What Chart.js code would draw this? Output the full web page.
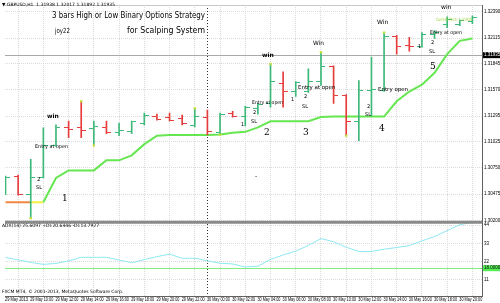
<!DOCTYPE html>
<html>
<head>
<meta charset="utf-8">
<script src="https://cdn.jsdelivr.net/npm/chart.js@4.4.0/dist/chart.umd.min.js"></script>
<style>
  html, body { margin: 0; padding: 0; background: #fff; }
  #wrap { width: 500px; height: 303px; }
</style>
</head>
<body>
<div id="wrap"><canvas id="chart" width="500" height="303"></canvas></div>
<script>
///////////////////////////
// DATA  (GBPUSD H1, 29 May 08:00 -> 30 May 21:00)
///////////////////////////

const timeLabels = ["29 May 2013", "29 May 10:00", "29 May 12:00", "29 May 14:00", "29 May 16:00",
    "29 May 18:00", "29 May 20:00", "29 May 22:00", "30 May 00:00", "30 May 02:00", "30 May 04:00",
    "30 May 06:00", "30 May 08:00", "30 May 10:00", "30 May 12:00", "30 May 14:00", "30 May 16:00",
    "30 May 18:00", "30 May 20:00"];

const priceTicks = [1.30200, 1.30335, 1.30475, 1.30610, 1.30750, 1.30885, 1.31025, 1.31165, 1.31295,
    1.31435, 1.31570, 1.31710, 1.31845, 1.31980, 1.32115, 1.32255, 1.32390];

const adxTicks = [11, 22, 33, 44];

const opens = [1.30479, 1.30665, 1.30469, 1.30654, 1.30985, 1.31171, 1.31171, 1.31160, 1.31171, 1.31119,
    1.31129, 1.31222, 1.31295, 1.31284, 1.31274, 1.31191, 1.31284, 1.31119, 1.31326, 1.31295,
    1.31377, 1.31429, 1.31636, 1.31553, 1.31553, 1.31656, 1.31811, 1.31512, 1.31233, 1.31563,
    1.31563, 1.32131, 1.32039, 1.32028, 1.32152, 1.32256, 1.32256, 1.32287];
const highs = [1.30665, 1.30675, 1.30840, 1.31171, 1.31202, 1.31243, 1.31450, 1.31243, 1.31243, 1.31222,
    1.31243, 1.31326, 1.31315, 1.31326, 1.31305, 1.31377, 1.31357, 1.31326, 1.31346, 1.31398,
    1.31429, 1.31842, 1.31760, 1.31656, 1.31791, 1.31966, 1.31822, 1.31522, 1.31667, 1.31915,
    1.32173, 1.32142, 1.32121, 1.32173, 1.32194, 1.32338, 1.32307, 1.32349];
const lows = [1.30469, 1.30465, 1.30221, 1.30644, 1.30975, 1.31067, 1.31067, 1.30985, 1.31109, 1.31088,
    1.31109, 1.31202, 1.31253, 1.31243, 1.31202, 1.31181, 1.31098, 1.31098, 1.31284, 1.31191,
    1.31315, 1.31388, 1.31388, 1.31501, 1.31543, 1.31615, 1.31429, 1.31088, 1.31037, 1.31295,
    1.31553, 1.31946, 1.31977, 1.32018, 1.32111, 1.32225, 1.32245, 1.32266];
const closes = [1.30654, 1.30469, 1.30654, 1.30985, 1.31171, 1.31150, 1.31140, 1.31181, 1.31119, 1.31140,
    1.31233, 1.31305, 1.31264, 1.31253, 1.31212, 1.31295, 1.31129, 1.31315, 1.31295, 1.31388,
    1.31419, 1.31656, 1.31553, 1.31646, 1.31656, 1.31811, 1.31512, 1.31233, 1.31563, 1.31574,
    1.32131, 1.32028, 1.32028, 1.32152, 1.32173, 1.32307, 1.32297, 1.32328];

// fractal dots on bar extremes
const dots = [null, null, 1.30221, null, null, null, 1.31450, 1.30985, null, null,
    null, null, null, null, null, 1.31377, null, 1.31098, null, null,
    null, 1.31842, null, null, null, 1.31966, null, 1.31088, null, null,
    1.32173, null, null, null, null, null, null, null];

// trailing stop line
const trail = [1.30389, 1.30389, 1.30389, 1.30389, 1.30644, 1.30724, 1.30724, 1.30724, 1.30830, 1.30830,
    1.30882, 1.31000, 1.31088, 1.31095, 1.31095, 1.31095, 1.31095, 1.31102, 1.31119, 1.31129,
    1.31176, 1.31240, 1.31240, 1.31240, 1.31240, 1.31284, 1.31290, 1.31290, 1.31290, 1.31290,
    1.31290, 1.31450, 1.31553, 1.31625, 1.31749, 1.31946, 1.32085, 1.32111];

const adx = [24.5, 23.0, 21.5, 20.3, 20.9, 22.4, 24.6, 24.6, 24.6, 22.9,
    21.3, 23.2, 25.0, 26.5, 24.0, 24.0, 22.5, 21.0, 20.6, 18.7,
    19.2, 23.3, 26.0, 28.3, 31.8, 35.9, 34.0, 30.7, 28.1, 28.1,
    29.5, 30.5, 31.7, 34.5, 37.2, 40.7, 44.3, 45.7];

const adxLevel = 18;
const bidPrice = 1.31935;
const daySeparatorBar = 16;

///////////////////////////
// STYLE
///////////////////////////

const BULL = "#3cb878";
const BEAR = "#e63c3c";
const TRAIL = "#66e650";
const GRID = "#dadada";
const FONT = "'Liberation Sans', Arial, sans-serif";

function tickImage(color, side) {
    const c = document.createElement("canvas");
    c.width = 9;
    c.height = 1;
    const g = c.getContext("2d");
    g.fillStyle = color;
    if (side === "left") g.fillRect(0, 0, 4, 1);
    else g.fillRect(5, 0, 4, 1);
    return c;
}
const tickImg = {
    bullL: tickImage(BULL, "left"), bullR: tickImage(BULL, "right"),
    bearL: tickImage(BEAR, "left"), bearR: tickImage(BEAR, "right")
};
const isBull = i => closes[i] >= opens[i];

// text objects placed on the chart (pixel layout)
const notes = [
    { t: "3 bars High or Low Binary Options Strategy", x: 52, y: 16, s: 8, w: 153 },
    { t: "joy22", x: 55, y: 31, s: 7, w: 15 },
    { t: "for Scalping System", x: 127, y: 31, s: 8, w: 78 },
    { t: "win", x: 47, y: 116, s: 6, w: 15, b: true },
    { t: "Entry at open", x: 35, y: 147, s: 5, w: 33 },
    { t: "2", x: 37, y: 180, s: 5.5 },
    { t: "SL", x: 36, y: 188, s: 5 },
    { t: "1", x: 62, y: 199, s: 9, serif: true },
    { t: "win", x: 262, y: 55, s: 6, w: 12, b: true },
    { t: "Entry at open", x: 252, y: 103, s: 5, w: 31 },
    { t: "2", x: 253, y: 113, s: 5 },
    { t: "SL", x: 251, y: 122, s: 5 },
    { t: "1", x: 241, y: 125, s: 5 },
    { t: "2", x: 264, y: 133, s: 9, serif: true },
    { t: "3", x: 303, y: 133, s: 9, serif: true },
    { t: "Win", x: 313, y: 43, s: 6, w: 11 },
    { t: "Entry at open", x: 298, y: 88, s: 5.5, w: 40 },
    { t: "1", x: 291, y: 100, s: 5 },
    { t: "2", x: 304, y: 97, s: 5 },
    { t: "SL", x: 302, y: 107, s: 5 },
    { t: "Win", x: 377, y: 22, s: 6, w: 12 },
    { t: "Entry open", x: 378, y: 90, s: 5.5, w: 34 },
    { t: "2", x: 367, y: 107, s: 5 },
    { t: "SL", x: 365, y: 115, s: 5 },
    { t: "4", x: 379, y: 129, s: 9, serif: true },
    { t: "1", x: 418, y: 47, s: 5 },
    { t: "Entry at open", x: 430, y: 33, s: 5, w: 32 },
    { t: "2", x: 431, y: 43, s: 5 },
    { t: "SL", x: 429, y: 52, s: 5 },
    { t: "5", x: 430, y: 67, s: 9, serif: true },
    { t: "win", x: 441, y: 7, s: 6, w: 11 },
    { t: "Current Price: 1.31935", x: 436, y: 20, s: 4.5, w: 36, c: "#9acd32" },
    { t: "-", x: 255, y: 176, s: 6 },
    { t: "\u25BC GBPUSD,H1  1.31938 1.32017 1.31892 1.31935", x: 2, y: 5, s: 4.5 },
    { t: "ADX(14) 25.6097 +DI:20.6446 -DI:13.7927", x: 2, y: 226, s: 4.5 },
    { t: "FXCM MT4, \u00A9 2001-2013, MetaQuotes Software Corp.", x: 2, y: 292, s: 4.5 }
];

///////////////////////////
// PLUGIN – terminal decorations
///////////////////////////

const mtOverlay = {
    id: "mtOverlay",
    beforeDatasetsDraw(chart) {
        const { ctx, chartArea: a, scales } = chart;
        ctx.save();
        ctx.lineWidth = 1;

        // day separator
        const xs = Math.round(scales.x.getPixelForValue(daySeparatorBar)) + 0.5;
        ctx.strokeStyle = "#303030";
        ctx.setLineDash([1, 2]);
        ctx.beginPath();
        ctx.moveTo(xs, a.top);
        ctx.lineTo(xs, a.bottom);
        ctx.stroke();
        ctx.setLineDash([]);

        // bid line
        const yb = Math.round(scales.y.getPixelForValue(bidPrice)) + 0.5;
        ctx.strokeStyle = "#a8a8a8";
        ctx.beginPath();
        ctx.moveTo(a.left, yb);
        ctx.lineTo(a.right, yb);
        ctx.stroke();

        // ADX level
        const yl = Math.round(scales.y2.getPixelForValue(adxLevel)) + 0.5;
        ctx.strokeStyle = "#80ee80";
        ctx.beginPath();
        ctx.moveTo(a.left, yl);
        ctx.lineTo(a.right, yl);
        ctx.stroke();
        ctx.restore();
    },
    afterDraw(chart) {
        const { ctx, chartArea: a, scales } = chart;
        ctx.save();

        // pane separator + frame
        const ySep = scales.y.bottom;
        ctx.fillStyle = "#8a8a8a";
        ctx.fillRect(a.left, ySep - 1.5, a.right - a.left, 3);
        ctx.fillStyle = "#606060";
        ctx.fillRect(a.right, a.top, 1, a.bottom - a.top + 1);
        ctx.fillRect(a.left, a.bottom, a.right - a.left, 1);
        ctx.fillStyle = "#c8c8c8";
        ctx.fillRect(a.left, a.top, a.right - a.left, 1);

        ctx.textBaseline = "middle";
        ctx.textAlign = "left";

        // time axis labels (narrow terminal font)
        ctx.font = "5px " + FONT;
        ctx.fillStyle = "#000";
        scales.x.ticks.forEach(t => {
            const px = scales.x.getPixelForValue(t.value);
            ctx.fillText(timeLabels[t.value / 2], px - 0.5, a.bottom + 3.8, 23);
        });

        // bid price box
        const yb = scales.y.getPixelForValue(bidPrice);
        ctx.fillStyle = "#000";
        ctx.fillRect(a.right + 1, yb - 3, 18, 6);
        ctx.fillStyle = "#fff";
        ctx.font = "4.5px " + FONT;
        ctx.fillText(bidPrice.toFixed(5), a.right + 2, yb);

        // level box
        const yl = scales.y2.getPixelForValue(adxLevel);
        ctx.fillStyle = "#55ee55";
        ctx.fillRect(a.right + 1, yl - 3, 18, 6);
        ctx.fillStyle = "#000";
        ctx.fillText(adxLevel.toFixed(4), a.right + 2, yl);

        // notes
        notes.forEach(n => {
            const fam = n.serif ? "'DejaVu Serif', serif" : "'DejaVu Sans', sans-serif";
            ctx.font = (n.b ? "bold " : "") + n.s + "px " + fam;
            ctx.fillStyle = n.c || "#000";
            if (n.w) ctx.fillText(n.t, n.x, n.y, n.w);
            else ctx.fillText(n.t, n.x, n.y);
        });
        ctx.restore();
    }
};

///////////////////////////
// CHART
///////////////////////////

const idx = opens.map((_, i) => i);

new Chart(document.getElementById("chart"), {
    type: "bar",
    data: {
        datasets: [
            {
                type: "bar",
                data: idx.map(i => ({ x: i, y: [lows[i], highs[i]] })),
                backgroundColor: idx.map(i => isBull(i) ? BULL : BEAR),
                borderWidth: 0,
                barThickness: 1,
                yAxisID: "y",
                order: 3
            },
            {
                type: "scatter",
                data: idx.map(i => ({ x: i, y: opens[i] })),
                pointStyle: idx.map(i => isBull(i) ? tickImg.bullL : tickImg.bearL),
                yAxisID: "y",
                order: 2
            },
            {
                type: "scatter",
                data: idx.map(i => ({ x: i, y: closes[i] })),
                pointStyle: idx.map(i => isBull(i) ? tickImg.bullR : tickImg.bearR),
                yAxisID: "y",
                order: 2
            },
            {
                type: "line",
                data: idx.map(i => ({ x: i, y: trail[i] })),
                borderWidth: 2,
                borderColor: TRAIL,
                pointRadius: 0,
                tension: 0,
                segment: {
                    borderColor: c => c.p0DataIndex < 2 ? "#f08844" : (c.p0DataIndex < 3 ? "#f4f040" : TRAIL)
                },
                yAxisID: "y",
                order: 4
            },
            {
                type: "scatter",
                data: idx.map(i => ({ x: i, y: dots[i] })),
                pointRadius: 1.3,
                pointBackgroundColor: "#c8e03c",
                pointBorderWidth: 0,
                yAxisID: "y",
                order: 1
            },
            {
                type: "line",
                data: idx.map(i => ({ x: i, y: adx[i] })),
                borderWidth: 1,
                borderColor: "#8ee8f2",
                pointRadius: 0,
                tension: 0,
                yAxisID: "y2",
                order: 4
            }
        ]
    },
    options: {
        responsive: false,
        animation: false,
        events: [],
        layout: { padding: 0 },
        plugins: { legend: { display: false }, tooltip: { enabled: false } },
        scales: {
            x: {
                type: "linear",
                offset: false,
                min: -0.04,
                max: 37.76,
                afterBuildTicks: s => { s.ticks = timeLabels.map((_, k) => ({ value: k * 2 })); },
                afterFit: s => { s.height = 7; },
                ticks: { display: false },
                grid: { color: GRID, drawTicks: false },
                border: { display: false, dash: [1, 1] }
            },
            y: {
                position: "right",
                stack: "panes",
                stackWeight: 221,
                min: 1.30179,
                max: 1.32462,
                afterBuildTicks: s => { s.ticks = priceTicks.map(v => ({ value: v })); },
                afterFit: s => { s.width = 18; },
                ticks: {
                    callback: v => v.toFixed(5),
                    padding: 2,
                    color: "#000",
                    font: { size: 4.5, family: FONT }
                },
                grid: { color: GRID, drawTicks: false },
                border: { display: false, dash: [1, 1] }
            },
            y2: {
                position: "right",
                stack: "panes",
                stackWeight: 75,
                min: 1.19,
                max: 45.78,
                afterBuildTicks: s => { s.ticks = adxTicks.map(v => ({ value: v })); },
                afterFit: s => { s.width = 18; },
                ticks: {
                    padding: 2,
                    color: "#000",
                    font: { size: 4.5, family: FONT }
                },
                grid: { color: GRID, drawTicks: false },
                border: { display: false, dash: [1, 1] }
            }
        }
    },
    plugins: [mtOverlay]
});
</script>
</body>
</html>
